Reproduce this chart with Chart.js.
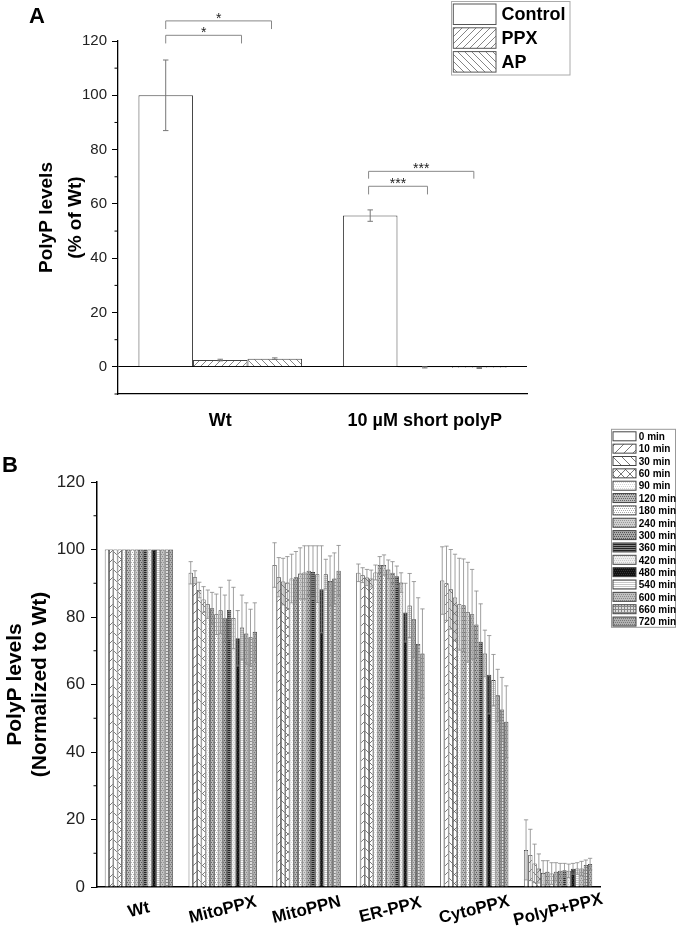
<!DOCTYPE html>
<html>
<head>
<meta charset="utf-8">
<script src="https://cdn.jsdelivr.net/npm/chart.js@4.4.0/dist/chart.umd.min.js"></script>
<style>
html, body { margin: 0; padding: 0; background: #fff; }
body { width: 678px; height: 928px; position: relative; overflow: hidden; font-family: "Liberation Sans", Arial, sans-serif; }
#wrapA { position: absolute; left: 0; top: 0; width: 678px; height: 430px; }
#wrapB { position: absolute; left: 0; top: 420px; width: 678px; height: 508px; }
.panel { position: absolute; font-weight: bold; font-size: 22px; line-height: 24px; color: #000; }
</style>
</head>
<body>
<div id="wrapA"><canvas id="chartA" width="678" height="430"></canvas></div>
<div id="wrapB"><canvas id="chartB" width="678" height="508"></canvas></div>
<div class="panel" style="left:29px;top:4px">A</div>
<div class="panel" style="left:2px;top:453px">B</div>
<script>
// ---- panel A data ----
const groupsA = ['Wt', '10 µM short polyP'];
const controlA = [100, 55.7];
const controlErrA = [13, 2.1];
const ppxA = [2.5, -0.2];
const ppxErrA = [0.3, 0.2];
const apA = [3.0, -0.4];
const apErrA = [0.3, 0.2];

// ---- panel B data ----
const groupsB = ['Wt', 'MitoPPX', 'MitoPPN', 'ER-PPX', 'CytoPPX', 'PolyP+PPX'];
const timesB = ['0 min', '10 min', '30 min', '60 min', '90 min', '120 min', '180 min', '240 min',
                '300 min', '360 min', '420 min', '480 min', '540 min', '600 min', '660 min', '720 min'];
const wtB =          [100, 100, 100, 100, 100, 100, 100, 100, 100, 100, 100, 100, 100, 100, 100, 100];
const wtErrB =       [0, 0, 0, 0, 0, 0, 0, 0, 0, 0, 0, 0, 0, 0, 0, 0];
const mitoPpxB =     [93.1, 91.8, 88.0, 85.2, 83.8, 82.6, 80.8, 82.0, 79.6, 82.1, 79.7, 73.7, 76.9, 75.1, 74.0, 75.6];
const mitoPpxErrB =  [3.3, 1.9, 2.3, 3.8, 4.2, 4.7, 6.0, 6.8, 6.9, 8.8, 9.1, 8.2, 9.6, 9.1, 8.3, 8.6];
const mitoPpnB =     [95.4, 91.8, 90.5, 90.2, 91.4, 91.8, 92.9, 93.2, 93.7, 93.3, 92.7, 88.2, 92.7, 90.7, 91.4, 93.7];
const mitoPpnErrB =  [6.6, 5.8, 6.9, 7.7, 7.2, 7.6, 7.6, 7.9, 7.4, 7.8, 8.4, 12.9, 4.4, 7.4, 7.6, 7.5];
const erPpxB =       [93.1, 92.4, 91.7, 91.4, 93.2, 95.4, 95.4, 94.1, 93.1, 92.1, 90.2, 81.3, 83.4, 79.3, 72.0, 69.2];
const erPpxErrB =    [2.6, 2.2, 2.4, 2.5, 2.2, 2.5, 3.0, 2.8, 3.3, 3.0, 2.9, 8.7, 9.5, 11.2, 13.7, 13.2];
const cytoPpxB =     [90.8, 90.0, 88.2, 85.8, 83.8, 83.5, 81.4, 80.8, 77.8, 72.7, 69.2, 62.9, 61.3, 56.8, 52.6, 49.0];
const cytoPpxErrB =  [10.0, 11.0, 11.8, 12.8, 13.6, 13.7, 14.8, 13.3, 9.9, 11.2, 6.9, 11.6, 7.6, 7.7, 9.5, 10.6];
const polyPpxB =     [11.0, 9.5, 7.0, 5.5, 4.2, 4.5, 4.0, 4.5, 4.8, 5.0, 4.8, 5.4, 5.5, 5.5, 6.5, 6.8];
const polyPpxErrB =  [8.9, 7.6, 5.7, 4.3, 3.6, 3.3, 3.2, 2.7, 2.2, 2.0, 2.0, 1.6, 1.7, 2.1, 1.5, 1.7];

Chart.defaults.font.family = '"Liberation Sans", Arial, sans-serif';
Chart.defaults.color = '#111';

// pattern tiles
function tile(size, bg, draw) {
    const c = document.createElement('canvas');
    c.width = size; c.height = size;
    const g = c.getContext('2d');
    g.fillStyle = bg;
    g.fillRect(0, 0, size, size);
    if (draw) draw(g, size);
    return g.createPattern(c, 'repeat');
}
function diag(dir, color, lw) {
    return function(g, s) {
        g.strokeStyle = color; g.lineWidth = lw;
        g.beginPath();
        if (dir > 0) {
            g.moveTo(0, s); g.lineTo(s, 0);
            g.moveTo(-1, 1); g.lineTo(1, -1);
            g.moveTo(s - 1, s + 1); g.lineTo(s + 1, s - 1);
        } else {
            g.moveTo(0, 0); g.lineTo(s, s);
            g.moveTo(s - 1, -1); g.lineTo(s + 1, 1);
            g.moveTo(-1, s - 1); g.lineTo(1, s + 1);
        }
        g.stroke();
    };
}
function cross(color, lw) {
    return function(g, s) { diag(1, color, lw)(g, s); diag(-1, color, lw)(g, s); };
}
function dots(color, step) {
    return function(g, s) {
        g.fillStyle = color;
        for (let y = 0; y < s; y += step) {
            const shift = (y / step) % 2 ? Math.floor(step / 2) : 0;
            for (let x = shift; x < s; x += step) g.fillRect(x, y, 1, 1);
        }
    };
}
function hlines(color, step) {
    return function(g, s) {
        g.fillStyle = color;
        for (let y = 0; y < s; y += step) g.fillRect(0, y, s, 1);
    };
}
function grid(color, step) {
    return function(g, s) {
        g.fillStyle = color;
        for (let y = 0; y < s; y += step) g.fillRect(0, y, s, 1);
        for (let x = 0; x < s; x += step) g.fillRect(x, 0, 1, s);
    };
}

const fillsA = ['#ffffff', tile(7, '#ffffff', diag(1, '#777', 0.9)), tile(7, '#ffffff', diag(-1, '#777', 0.9))];

const fillsB = [
    '#ffffff',
    tile(9, '#ffffff', diag(1, '#555', 0.8)),
    tile(9, '#ffffff', diag(-1, '#555', 0.8)),
    tile(9, '#ffffff', cross('#555', 0.8)),
    tile(4, '#ffffff', dots('#d8d8d8', 2)),
    tile(4, '#bbbbbb', dots('#666', 2)),
    tile(4, '#ffffff', dots('#aaa', 2)),
    tile(4, '#d0d0d0', dots('#999', 2)),
    tile(4, '#aaaaaa', dots('#555', 2)),
    tile(4, '#888888', hlines('#222', 2)),
    tile(4, '#eeeeee', dots('#c8c8c8', 2)),
    tile(4, '#111111', dots('#333', 2)),
    tile(4, '#ffffff', hlines('#c8c8c8', 2)),
    tile(4, '#c0c0c0', dots('#888', 2)),
    tile(6, '#dddddd', grid('#888', 3)),
    tile(4, '#b0b0b0', dots('#777', 2))
];

// ---- plugins ----
const errorBarPlugin = {
    id: 'errorBars',
    afterDatasetsDraw(chart, args, opts) {
        const ctx = chart.ctx;
        const y = chart.scales.y;
        ctx.save();
        ctx.strokeStyle = opts.color;
        ctx.lineWidth = opts.width;
        chart.data.datasets.forEach((ds, i) => {
            const meta = chart.getDatasetMeta(i);
            meta.data.forEach((bar, j) => {
                const e = ds.errors ? ds.errors[j] : 0;
                if (!e) return;
                const v = ds.data[j];
                const top = y.getPixelForValue(v + e);
                const bot = y.getPixelForValue(v - e);
                const half = bar.width * opts.cap / 2;
                ctx.beginPath();
                ctx.moveTo(bar.x, top); ctx.lineTo(bar.x, bot);
                ctx.moveTo(bar.x - half, top); ctx.lineTo(bar.x + half, top);
                ctx.moveTo(bar.x - half, bot); ctx.lineTo(bar.x + half, bot);
                ctx.stroke();
            });
        });
        ctx.restore();
    }
};

const bracketPlugin = {
    id: 'sigBrackets',
    afterDraw(chart, args, opts) {
        if (!opts.items) return;
        const ctx = chart.ctx;
        const y = chart.scales.y;
        ctx.save();
        ctx.strokeStyle = opts.color;
        ctx.lineWidth = 1;
        ctx.fillStyle = opts.textColor;
        ctx.font = opts.font;
        ctx.textAlign = 'center';
        ctx.textBaseline = 'alphabetic';
        opts.items.forEach(b => {
            const a = chart.getDatasetMeta(b.from).data[b.cat];
            const c = chart.getDatasetMeta(b.to).data[b.cat];
            const x1 = a.x + (b.fromShift || 0) * a.width;
            const x2 = c.x + (b.toShift || 0) * c.width;
            const yl = y.getPixelForValue(b.level);
            const yd = y.getPixelForValue(b.level - b.drop);
            ctx.beginPath();
            ctx.moveTo(x1, yd); ctx.lineTo(x1, yl); ctx.lineTo(x2, yl); ctx.lineTo(x2, yd);
            ctx.stroke();
            ctx.fillText(b.text, (x1 + x2) / 2, yl + opts.textOffset);
        });
        ctx.restore();
    }
};

const boxLegendPlugin = {
    id: 'boxLegend',
    afterDraw(chart, args, o) {
        const ctx = chart.ctx;
        ctx.save();
        ctx.fillStyle = '#fff';
        ctx.fillRect(o.x, o.y, o.w, o.h);
        ctx.strokeStyle = o.frameColor;
        ctx.lineWidth = 1;
        ctx.strokeRect(o.x, o.y, o.w, o.h);
        ctx.font = o.font;
        ctx.textAlign = 'left';
        ctx.textBaseline = 'middle';
        chart.data.datasets.forEach((ds, i) => {
            const bx = o.x + o.boxX;
            const by = o.y + o.top + i * o.rowH;
            ctx.fillStyle = ds.backgroundColor;
            ctx.fillRect(bx, by, o.boxW, o.boxH);
            ctx.strokeStyle = o.boxBorder;
            ctx.strokeRect(bx, by, o.boxW, o.boxH);
            ctx.fillStyle = o.color;
            ctx.fillText(ds.label, o.x + o.textX, by + o.boxH / 2 + 1);
        });
        ctx.restore();
    }
};

const minorTickPlugin = {
    id: 'minorTicks',
    afterDraw(chart, args, o) {
        const ctx = chart.ctx;
        const y = chart.scales.y;
        ctx.save();
        ctx.strokeStyle = '#000';
        ctx.lineWidth = o.width;
        y.ticks.forEach(t => {
            if (t.value % o.major === 0) return;
            const py = y.getPixelForValue(t.value);
            ctx.beginPath();
            ctx.moveTo(y.right - o.len, py);
            ctx.lineTo(y.right, py);
            ctx.stroke();
        });
        ctx.restore();
    }
};

const slantLabelPlugin = {
    id: 'slantLabels',
    afterDraw(chart, args, o) {
        if (!o.display) return;
        const ctx = chart.ctx;
        const x = chart.scales.x;
        ctx.save();
        ctx.font = o.font;
        ctx.fillStyle = o.color;
        ctx.textAlign = 'center';
        ctx.textBaseline = 'middle';
        chart.data.labels.forEach((lab, i) => {
            ctx.save();
            ctx.translate(x.getPixelForTick(i), x.top + o.offset);
            ctx.rotate(-o.angle * Math.PI / 180);
            ctx.fillText(lab, 0, 0);
            ctx.restore();
        });
        ctx.restore();
    }
};

function majorOnly(color) {
    return c => (c.tick && c.tick.value % 20 === 0) ? color : 'rgba(0,0,0,0)';
}

// ---- chart A ----
new Chart(document.getElementById('chartA'), {
    type: 'bar',
    data: {
        labels: groupsA,
        datasets: [
            { label: 'Control', data: controlA, errors: controlErrA, backgroundColor: fillsA[0] },
            { label: 'PPX', data: ppxA, errors: ppxErrA, backgroundColor: fillsA[1] },
            { label: 'AP', data: apA, errors: apErrA, backgroundColor: fillsA[2] }
        ].map(d => Object.assign(d, { borderColor: '#444', borderWidth: 1, categoryPercentage: 0.8, barPercentage: 1 }))
    },
    plugins: [errorBarPlugin, bracketPlugin, boxLegendPlugin, minorTickPlugin],
    options: {
        responsive: false,
        animation: false,
        layout: { padding: { left: 0, top: 41, right: 151, bottom: 0 } },
        scales: {
            x: {
                grid: { display: false },
                border: { display: true, color: '#000', width: 1.3 },
                ticks: { color: '#000', padding: 8, font: { size: 18, weight: 'bold' } },
                afterFit: s => { s.height = 36; }
            },
            y: {
                min: -10, max: 120,
                ticks: { stepSize: 10, color: '#222', padding: 5, font: { size: 15 },
                         callback: v => (v % 20 === 0 ? v : '') },
                grid: { drawOnChartArea: true, tickLength: 6, lineWidth: 1,
                        color: c => (c.tick && c.tick.value === 0) ? '#000' : 'rgba(0,0,0,0)',
                        tickColor: majorOnly('#000') },
                border: { display: true, color: '#000', width: 1.3 },
                title: { display: true, text: ['PolyP levels', '(% of Wt)'], color: '#000',
                         font: { size: 19, weight: 'bold', lineHeight: 1.55 }, padding: { top: 32, bottom: 0 } },
                afterFit: s => { s.width = 118; }
            }
        },
        plugins: {
            legend: { display: false },
            tooltip: { enabled: false },
            errorBars: { color: '#777', width: 1, cap: 0.1 },
            minorTicks: { len: 3.5, width: 1, major: 20 },
            sigBrackets: {
                color: '#888', textColor: '#222', font: '14px "Liberation Sans", Arial, sans-serif', textOffset: 2,
                items: [
                    { cat: 0, from: 0, to: 2, toShift: -0.06, level: 127.4, drop: 3, text: '*' },
                    { cat: 0, from: 0, to: 1, toShift: 0.39, level: 122.1, drop: 3, text: '*' },
                    { cat: 1, from: 0, to: 2, fromShift: -0.03, toShift: -0.1, level: 72.0, drop: 2.7, text: '***' },
                    { cat: 1, from: 0, to: 1, fromShift: -0.03, toShift: 0.05, level: 66.5, drop: 3, text: '***' }
                ]
            },
            boxLegend: { x: 451.5, y: 1.5, w: 118.5, h: 73.5, boxX: 1.8, top: 2.5, boxW: 42.7, boxH: 20.5,
                         rowH: 23.8, textX: 50, font: 'bold 18px "Liberation Sans", Arial, sans-serif',
                         color: '#000', frameColor: '#aaa', boxBorder: '#555' }
        }
    }
});

// ---- chart B ----
const seriesB = [wtB, mitoPpxB, mitoPpnB, erPpxB, cytoPpxB, polyPpxB];
const seriesErrB = [wtErrB, mitoPpxErrB, mitoPpnErrB, erPpxErrB, cytoPpxErrB, polyPpxErrB];

new Chart(document.getElementById('chartB'), {
    type: 'bar',
    data: {
        labels: groupsB,
        datasets: timesB.map((t, i) => ({
            label: t,
            data: seriesB.map(g => g[i]),
            errors: seriesErrB.map(g => g[i]),
            backgroundColor: fillsB[i],
            borderColor: '#333',
            borderWidth: 0.8,
            categoryPercentage: 0.815,
            barPercentage: 1
        }))
    },
    plugins: [errorBarPlugin, boxLegendPlugin, minorTickPlugin, slantLabelPlugin],
    options: {
        responsive: false,
        animation: false,
        layout: { padding: { left: 0, top: 62, right: 78, bottom: 0 } },
        scales: {
            x: {
                grid: { display: false },
                border: { display: true, color: '#000', width: 1.5 },
                ticks: { display: false },
                afterFit: s => { s.height = 41; }
            },
            y: {
                min: 0, max: 120,
                ticks: { stepSize: 10, color: '#222', padding: 6, font: { size: 17 },
                         callback: v => (v % 20 === 0 ? v : '') },
                grid: { drawOnChartArea: false, tickLength: 6, tickColor: majorOnly('#000') },
                border: { display: true, color: '#000', width: 1.5 },
                title: { display: true, text: ['PolyP levels', '(Normalized to Wt)'], color: '#000',
                         font: { size: 21, weight: 'bold', lineHeight: 1.2 }, padding: { top: 2.5, bottom: 0 } },
                afterFit: s => { s.width = 97; }
            }
        },
        plugins: {
            legend: { display: false },
            tooltip: { enabled: false },
            errorBars: { color: '#888', width: 0.8, cap: 1 },
            minorTicks: { len: 3.5, width: 1, major: 20 },
            slantLabels: { display: true, offset: 23, angle: 14, color: '#000',
                           font: 'bold 17px "Liberation Sans", Arial, sans-serif' },
            boxLegend: { x: 611.5, y: 9.3, w: 64, h: 198, boxX: 1.5, top: 2.5, boxW: 23, boxH: 9,
                         rowH: 12.35, textX: 27.3, font: 'bold 10px "Liberation Sans", Arial, sans-serif',
                         color: '#000', frameColor: '#999', boxBorder: '#444' }
        }
    }
});
</script>
</body>
</html>
